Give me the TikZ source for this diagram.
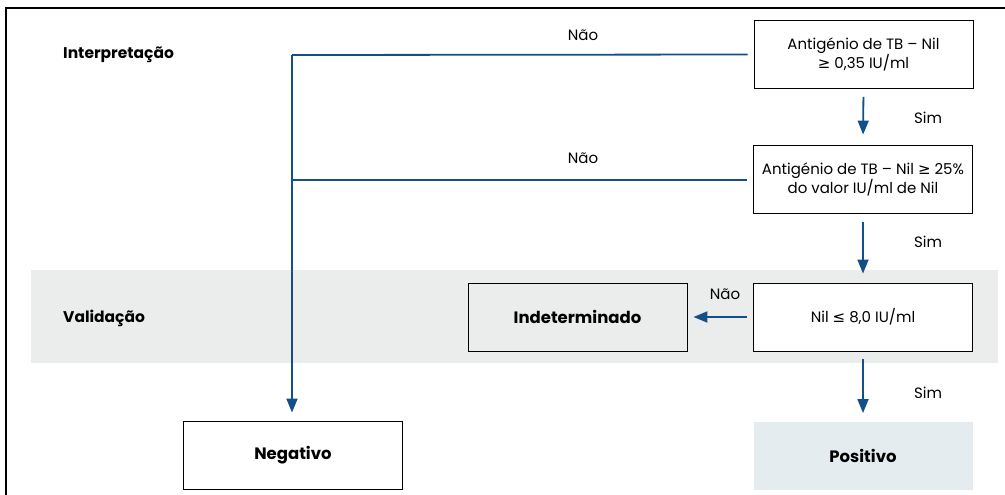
\documentclass[tikz,border=0pt]{standalone}
\usepackage{fontspec}
\setmainfont{Poppins}
\newfontfamily\symf{DejaVu Sans}
\usetikzlibrary{arrows.meta}
\definecolor{flowblue}{HTML}{13508A}
\definecolor{bandgray}{HTML}{EBECEC}
\definecolor{posfill}{HTML}{E5ECF0}
\tikzset{
  stepbox/.style={draw=black, line width=0.9pt, fill=white, minimum width=219pt, minimum height=68pt, align=center, inner sep=0pt, font=\fontsize{15}{19}\selectfont},
  resbox/.style={stepbox, font=\fontsize{16.5}{19}\selectfont\bfseries},
  flow/.style={draw=flowblue, line width=1.8pt},
  flowarrow/.style={flow, -{Triangle[length=14pt,width=11pt]}},
  lbl/.style={font=\fontsize{15}{17}\selectfont, inner sep=0pt},
  head/.style={font=\fontsize{15.5}{18}\selectfont\bfseries, inner sep=0pt, anchor=west}
}
\begin{document}
\begin{tikzpicture}[x=1pt,y=-1pt]
\useasboundingbox (0,0) rectangle (1005,495);
% band
\fill[bandgray] (31,270) rectangle (998,363);
% frame
\draw[line width=2pt] (6,495) -- (6,8) -- (1005,8);
% headings
\node[head] (hint) at (63,55) {Interpretação};
\node[head] (hval) at (63,318) {Validação};
% boxes
\node[stepbox] (b1) at (863.5,54.5) {Antigénio de TB – Nil\\{\symf ≥} 0,35 IU/ml};
\node[stepbox] (b2) at (863,179) {Antigénio de TB – Nil {\symf ≥} 25\%\\do valor IU/ml de Nil};
\node[stepbox] (b3) at (863,317) {Nil {\symf ≤} 8,0 IU/ml};
\node[resbox, fill=bandgray] (ind) at (577.5,317) {Indeterminado};
\node[resbox] (neg) at (293,455) {Negativo};
\node[resbox, draw=none, fill=posfill] (pos) at (863,455.5) {Positivo};
% coordinates
\coordinate (c1) at (292,55);
\coordinate (c2) at (292,180);
% connectors
\draw[flow, shorten <=6pt] (b1.west) -- (c1);
\draw[flow, shorten <=6pt] (b2.west |- c2) -- (c2);
\draw[flowarrow, shorten >=8pt] (c1) -- (c1 |- neg.north);
\draw[flowarrow, shorten <=8pt, shorten >=10pt] (b1.south) -- (b2.north);
\draw[flowarrow, shorten <=9pt, shorten >=9pt] (b2.south) -- (b3.north);
\draw[flowarrow, shorten <=8pt, shorten >=8pt] (b3.south) -- (pos.north);
\draw[flowarrow, shorten <=6pt, shorten >=6pt] (b3.west) -- (ind.east);
% labels
\node[lbl] (n1) at (583,35) {Não};
\node[lbl] (n2) at (583,158) {Não};
\node[lbl] (n3) at (725,294) {Não};
\node[lbl] (s1) at (928,118) {Sim};
\node[lbl] (s2) at (928,242) {Sim};
\node[lbl] (s3) at (928,393) {Sim};
\end{tikzpicture}
\end{document}
